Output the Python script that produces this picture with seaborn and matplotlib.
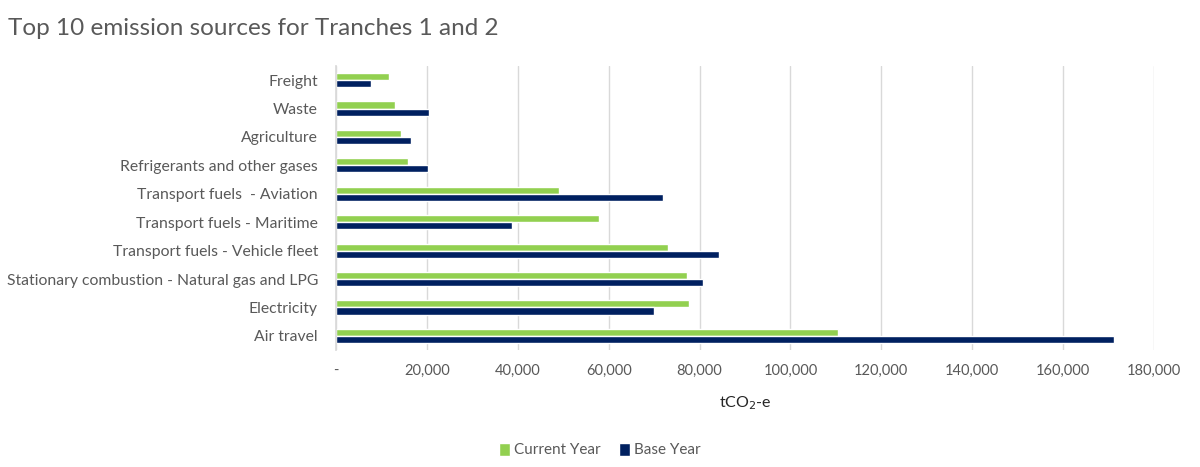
import pandas as pd
import seaborn as sns
import matplotlib.pyplot as plt
from matplotlib.ticker import FuncFormatter

# Emission sources (top to bottom as shown)
sources = [
    "Freight",
    "Waste",
    "Agriculture",
    "Refrigerants and other gases",
    "Transport fuels  - Aviation",
    "Transport fuels - Maritime",
    "Transport fuels - Vehicle fleet",
    "Stationary combustion - Natural gas and LPG",
    "Electricity",
    "Air travel",
]
current_year = [11700, 13000, 14300, 15800, 49100, 57900, 73100, 77200, 77600, 110500]
base_year = [7600, 20500, 16500, 20300, 71900, 38700, 84300, 80700, 70000, 171200]

df = pd.DataFrame({
    "source": sources * 2,
    "value": current_year + base_year,
    "year": ["Current Year"] * len(sources) + ["Base Year"] * len(sources),
})

sns.set_theme(style="white")
plt.rcParams["font.family"] = ["Lato", "DejaVu Sans"]
grey = "#595959"

fig = plt.figure(figsize=(12, 4.67), dpi=100)
ax = fig.add_axes([0.28, 0.2505, 0.6817, 0.6082])

sns.barplot(data=df, y="source", x="value", hue="year", order=sources,
            hue_order=["Current Year", "Base Year"],
            palette=["#92D050", "#002060"], width=0.5, orient="h",
            saturation=1, ax=ax)

ax.set_xlim(0, 180000)
ax.set_ylim(9.5, -0.5)
ax.set_xticks(range(0, 180001, 20000))
ax.xaxis.set_major_formatter(FuncFormatter(lambda v, p: "-" if v == 0 else f"{int(v):,}"))
ax.grid(axis="x", color="#D9D9D9", linewidth=1)
ax.set_axisbelow(True)
for s in ["top", "right", "bottom"]:
    ax.spines[s].set_visible(False)
ax.spines["left"].set_color("#D9D9D9")
ax.tick_params(axis="x", length=0, labelsize=10.5, colors=grey, pad=10)
ax.tick_params(axis="y", length=0, labelsize=11.3, colors=grey, pad=13)
ax.set_ylabel("")
ax.set_xlabel("tCO$_2$-e", fontsize=11.5, color="#262626", labelpad=12)

fig.text(0.007, 0.94, "Top 10 emission sources for Tranches 1 and 2",
         fontsize=17.5, color=grey, va="center")

handles, labels = ax.get_legend_handles_labels()
ax.get_legend().remove()
fig.legend(handles, labels, loc="center", bbox_to_anchor=(0.5, 0.036), ncol=2,
           frameon=False, fontsize=11, labelcolor=grey, handlelength=0.7,
           handleheight=0.9, handletextpad=0.3, columnspacing=1.2)

plt.savefig("out.png", dpi=100)
